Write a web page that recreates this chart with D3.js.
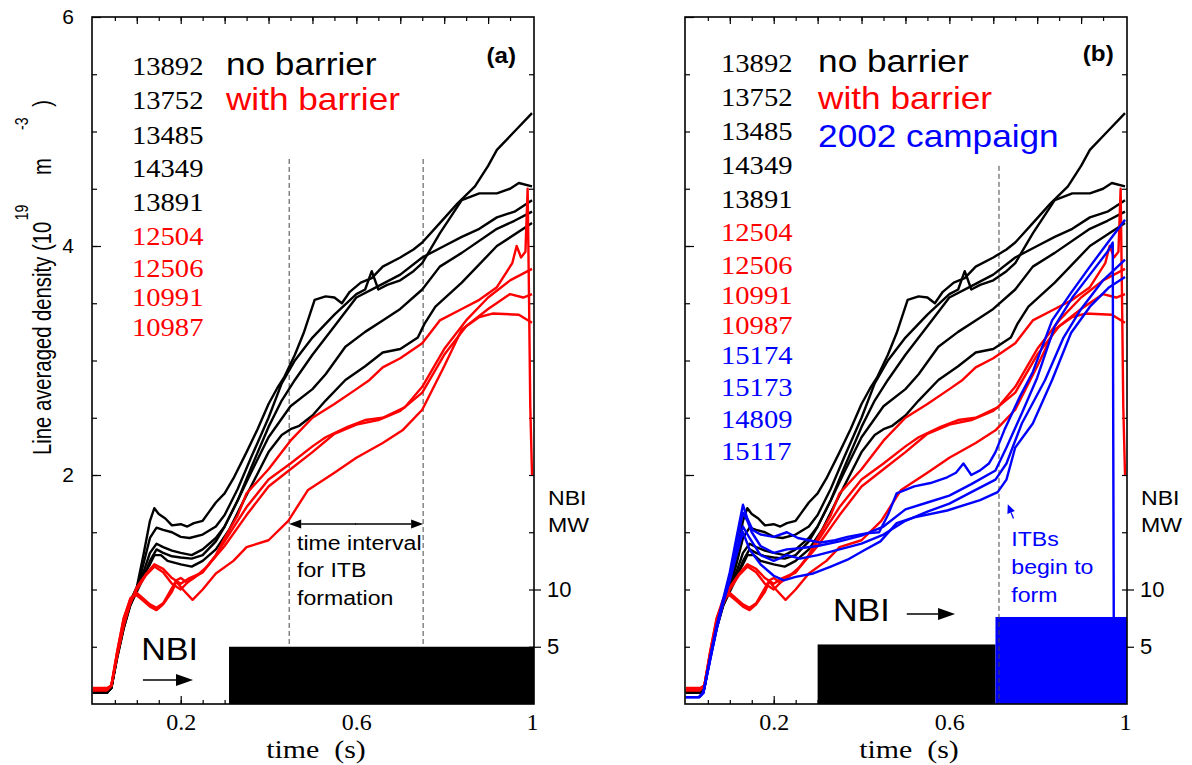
<!DOCTYPE html>
<html><head><meta charset="utf-8">
<script src="https://cdn.jsdelivr.net/npm/d3@7"></script>
<style>body{margin:0;background:#fff}</style></head>
<body><svg id="c" width="1192" height="765"></svg>
<script>
// ---------------- DATA ----------------
// time (s), line averaged density (1e19 m^-3)
const s13892 = [[0,0.1],[0.032,0.1],[0.042,0.14],[0.055,0.42],[0.07,0.68],[0.085,0.88],[0.1,1.02],[0.115,1.3],[0.13,1.6],[0.14,1.71],[0.15,1.66],[0.165,1.62],[0.18,1.56],[0.2,1.57],[0.215,1.55],[0.23,1.58],[0.25,1.6],[0.265,1.68],[0.28,1.76],[0.3,1.84],[0.32,1.97],[0.35,2.2],[0.375,2.4],[0.4,2.62],[0.42,2.76],[0.435,2.85],[0.46,3.05],[0.48,3.24],[0.505,3.53],[0.53,3.56],[0.55,3.55],[0.567,3.5],[0.585,3.6],[0.61,3.68],[0.635,3.72],[0.66,3.82],[0.7,3.9],[0.73,3.97],[0.75,4.03],[0.79,4.2],[0.83,4.37],[0.87,4.52],[0.9,4.7],[0.92,4.84],[0.96,5.0],[1.0,5.16]];
const s13752 = [[0,0.1],[0.032,0.1],[0.042,0.14],[0.055,0.4],[0.07,0.66],[0.085,0.86],[0.1,1.0],[0.115,1.22],[0.13,1.45],[0.145,1.54],[0.16,1.52],[0.18,1.5],[0.2,1.46],[0.22,1.45],[0.25,1.48],[0.28,1.55],[0.3,1.65],[0.33,1.88],[0.36,2.15],[0.4,2.5],[0.43,2.8],[0.46,3.0],[0.5,3.2],[0.55,3.4],[0.6,3.58],[0.62,3.62],[0.635,3.78],[0.65,3.62],[0.67,3.66],[0.7,3.7],[0.73,3.78],[0.75,3.85],[0.79,4.11],[0.84,4.4],[0.88,4.46],[0.92,4.46],[0.95,4.5],[0.97,4.55],[1.0,4.52]];
const s13485 = [[0,0.1],[0.032,0.1],[0.042,0.14],[0.055,0.42],[0.07,0.7],[0.085,0.9],[0.1,1.02],[0.115,1.15],[0.13,1.32],[0.145,1.4],[0.16,1.37],[0.18,1.34],[0.2,1.32],[0.225,1.3],[0.25,1.35],[0.28,1.45],[0.3,1.55],[0.33,1.78],[0.36,2.06],[0.4,2.42],[0.43,2.65],[0.46,2.83],[0.5,3.05],[0.55,3.3],[0.6,3.55],[0.65,3.65],[0.7,3.75],[0.75,3.9],[0.8,4.0],[0.84,4.08],[0.88,4.15],[0.92,4.25],[0.96,4.3],[1.0,4.4]];
const s14349 = [[0,0.1],[0.032,0.1],[0.042,0.14],[0.055,0.4],[0.07,0.66],[0.085,0.86],[0.1,0.98],[0.115,1.1],[0.13,1.25],[0.145,1.35],[0.16,1.32],[0.18,1.29],[0.2,1.28],[0.225,1.27],[0.25,1.3],[0.28,1.42],[0.3,1.55],[0.33,1.78],[0.36,2.02],[0.4,2.33],[0.45,2.6],[0.5,2.75],[0.53,2.88],[0.575,3.12],[0.62,3.25],[0.66,3.35],[0.7,3.45],[0.75,3.62],[0.79,3.82],[0.84,3.94],[0.92,4.15],[0.96,4.22],[1.0,4.3]];
const s13891 = [[0,0.1],[0.032,0.1],[0.042,0.14],[0.055,0.42],[0.07,0.68],[0.085,0.88],[0.1,1.0],[0.115,1.12],[0.13,1.22],[0.14,1.3],[0.155,1.3],[0.17,1.25],[0.2,1.22],[0.225,1.2],[0.25,1.25],[0.28,1.35],[0.31,1.52],[0.34,1.75],[0.36,1.9],[0.4,2.2],[0.43,2.35],[0.45,2.4],[0.47,2.43],[0.5,2.52],[0.53,2.65],[0.575,2.83],[0.62,2.95],[0.66,3.07],[0.7,3.1],[0.74,3.2],[0.755,3.32],[0.78,3.47],[0.84,3.68],[0.92,4.0],[1.0,4.2]];

const s12504 = [[0,0.14],[0.032,0.14],[0.042,0.16],[0.055,0.42],[0.07,0.68],[0.085,0.88],[0.1,1.02],[0.12,1.13],[0.14,1.22],[0.16,1.18],[0.18,1.1],[0.2,1.05],[0.22,1.1],[0.25,1.15],[0.28,1.3],[0.3,1.45],[0.33,1.65],[0.35,1.84],[0.4,2.05],[0.45,2.3],[0.5,2.5],[0.55,2.62],[0.6,2.75],[0.63,2.83],[0.66,2.94],[0.7,3.02],[0.75,3.15],[0.79,3.35],[0.84,3.45],[0.88,3.53],[0.92,3.64],[0.955,3.85],[0.965,4.0],[0.975,3.9],[0.985,3.95],[0.99,4.5],[0.993,3.6],[0.996,2.6],[1.0,2.0]];
const s12506 = [[0,0.13],[0.032,0.13],[0.042,0.16],[0.055,0.42],[0.07,0.7],[0.085,0.88],[0.1,1.0],[0.12,1.12],[0.14,1.2],[0.16,1.15],[0.18,1.05],[0.2,1.0],[0.22,1.08],[0.25,1.15],[0.28,1.3],[0.3,1.42],[0.35,1.72],[0.4,1.96],[0.45,2.1],[0.5,2.25],[0.53,2.33],[0.58,2.42],[0.62,2.48],[0.66,2.5],[0.71,2.59],[0.75,2.77],[0.8,3.1],[0.85,3.35],[0.9,3.55],[0.95,3.7],[1.0,3.8]];
const s10991 = [[0,0.12],[0.032,0.12],[0.042,0.16],[0.055,0.45],[0.07,0.74],[0.085,0.92],[0.1,0.97],[0.115,0.92],[0.13,0.87],[0.145,0.84],[0.16,0.88],[0.175,0.98],[0.19,1.08],[0.2,1.1],[0.215,1.06],[0.23,1.1],[0.26,1.2],[0.3,1.38],[0.35,1.65],[0.4,1.9],[0.45,2.05],[0.5,2.2],[0.55,2.36],[0.6,2.44],[0.65,2.48],[0.7,2.56],[0.75,2.72],[0.8,3.05],[0.85,3.3],[0.9,3.45],[0.95,3.58],[0.98,3.55],[1.0,3.58]];
const s10987 = [[0,0.12],[0.032,0.12],[0.042,0.16],[0.055,0.45],[0.07,0.75],[0.087,0.93],[0.1,0.95],[0.115,0.9],[0.13,0.85],[0.145,0.82],[0.16,0.87],[0.18,0.98],[0.19,1.07],[0.205,1.0],[0.227,0.91],[0.25,1.0],[0.28,1.14],[0.32,1.25],[0.35,1.37],[0.4,1.43],[0.445,1.6],[0.49,1.87],[0.55,2.02],[0.6,2.15],[0.66,2.28],[0.705,2.39],[0.75,2.57],[0.8,2.95],[0.84,3.27],[0.88,3.38],[0.91,3.41],[0.97,3.4],[1.0,3.33]];

const s15174 = [[0,0.06],[0.03,0.06],[0.04,0.1],[0.055,0.4],[0.07,0.68],[0.085,0.92],[0.1,1.15],[0.115,1.45],[0.13,1.74],[0.14,1.62],[0.152,1.52],[0.17,1.48],[0.2,1.46],[0.23,1.5],[0.255,1.45],[0.28,1.43],[0.307,1.41],[0.34,1.43],[0.368,1.46],[0.41,1.49],[0.44,1.5],[0.46,1.65],[0.48,1.84],[0.52,1.9],[0.557,1.93],[0.595,1.98],[0.615,2.02],[0.632,2.1],[0.65,2.0],[0.67,2.04],[0.69,2.1],[0.705,2.2],[0.725,2.39],[0.76,2.68],[0.79,2.9],[0.834,3.35],[0.877,3.59],[0.92,3.82],[0.955,4.0],[1.0,4.23]];
const s15173 = [[0,0.06],[0.03,0.06],[0.04,0.1],[0.055,0.4],[0.07,0.68],[0.085,0.9],[0.1,1.12],[0.115,1.4],[0.13,1.67],[0.14,1.6],[0.15,1.5],[0.17,1.38],[0.2,1.32],[0.23,1.35],[0.26,1.36],[0.3,1.38],[0.35,1.42],[0.4,1.47],[0.45,1.55],[0.5,1.7],[0.55,1.76],[0.6,1.82],[0.65,1.92],[0.705,2.04],[0.73,2.24],[0.765,2.54],[0.8,2.85],[0.84,3.3],[0.88,3.55],[0.92,3.75],[0.96,3.95],[0.972,4.03],[0.975,-0.2]];
const s14809 = [[0,0.06],[0.03,0.06],[0.04,0.1],[0.055,0.38],[0.07,0.66],[0.085,0.9],[0.1,1.1],[0.115,1.33],[0.13,1.55],[0.145,1.45],[0.17,1.3],[0.2,1.25],[0.23,1.3],[0.26,1.27],[0.3,1.3],[0.35,1.35],[0.4,1.4],[0.45,1.48],[0.5,1.6],[0.55,1.68],[0.6,1.75],[0.65,1.85],[0.705,1.96],[0.73,2.1],[0.765,2.45],[0.818,2.83],[0.86,3.2],[0.9,3.45],[0.95,3.7],[1.0,3.88]];
const s15117 = [[0,0.06],[0.03,0.06],[0.04,0.1],[0.055,0.38],[0.07,0.65],[0.085,0.88],[0.1,1.08],[0.115,1.3],[0.13,1.5],[0.145,1.35],[0.17,1.22],[0.2,1.12],[0.223,1.08],[0.25,1.11],[0.29,1.14],[0.33,1.2],[0.368,1.26],[0.405,1.34],[0.443,1.42],[0.48,1.58],[0.52,1.63],[0.595,1.69],[0.67,1.78],[0.71,1.85],[0.73,1.96],[0.75,2.24],[0.79,2.45],[0.834,2.83],[0.877,3.24],[0.92,3.47],[0.964,3.64],[1.0,3.73]];

const shotsNoBarrier = ["13892","13752","13485","14349","13891"];
const shotsBarrier = ["12504","12506","10991","10987"];
const shots2002 = ["15174","15173","14809","15117"];
const seriesBy = {"13892":s13892,"13752":s13752,"13485":s13485,"14349":s14349,"13891":s13891,
  "12504":s12504,"12506":s12506,"10991":s10991,"10987":s10987,
  "15174":s15174,"15173":s15173,"14809":s14809,"15117":s15117};

// NBI power phases: [start s, end s, MW]
const nbiA = [[0.31, 1.0045, 5.0]];
const nbiB = [[0.30, 0.705, 5.2],[0.705, 1.0045, 7.6]];

const yTickLabels = [2,4,6];
const xTickLabels = [0.2,0.6,1];
const mwTickLabels = [5,10];
const itbInterval = [0.447, 0.752];  // time interval for ITB formation (a)
const itbStartB = 0.713;             // ITBs begin to form (b)

// ---------------- STYLE / LAYOUT ----------------
const SANS = "'Liberation Sans', Arial, Helvetica, sans-serif";
const SERIF = "'Liberation Serif', 'Times New Roman', serif";
const BLACK = "#000", RED = "#ff0000", BLUE = "#0000ff";
const TOP = 17, BOT = 704, W = 442, STRETCH = 1.1;
const svg = d3.select("#c");

// text with the slight horizontal stretch of the original figure
function stext(g, x, y, str, size, color, bold, anchor, fam, sx) {
  return g.append("text").attr("transform", `translate(${x},${y}) scale(${sx || STRETCH},1)`)
    .attr("font-family", fam || SANS).attr("font-size", size).attr("fill", color || "#000")
    .attr("font-weight", bold ? "bold" : null).attr("text-anchor", anchor || "start")
    .attr("xml:space", "preserve").text(str);
}

function arrow(g, x1, y1, x2, y2, color, sw, hl, hw) {
  const a = Math.atan2(y2 - y1, x2 - x1);
  const bx = x2 - hl * Math.cos(a), by = y2 - hl * Math.sin(a);
  g.append("line").attr("x1", x1).attr("y1", y1).attr("x2", bx).attr("y2", by)
    .attr("stroke", color).attr("stroke-width", sw);
  const px = -Math.sin(a) * hw, py = Math.cos(a) * hw;
  g.append("path").attr("d", `M${x2},${y2}L${bx + px},${by + py}L${bx - px},${by - py}Z`).attr("fill", color);
}

function drawPanel(ox, cfg) {
  const x = d3.scaleLinear().domain([-0.002, 1.0045]).range([ox, ox + W]);
  const y = d3.scaleLinear().domain([0, 6]).range([BOT, TOP]);
  const yMW = d3.scaleLinear().domain([0, 60]).range([BOT, TOP]);
  const g = svg.append("g");
  const cid = "clip" + ox;
  svg.append("clipPath").attr("id", cid).append("rect")
    .attr("x", ox).attr("y", TOP).attr("width", W).attr("height", BOT - TOP);

  const styleAxis = (sel, fam, size) => {
    sel.attr("font-family", null).attr("font-size", null);
    sel.select(".domain").remove();
    sel.selectAll("line").attr("stroke", "#000").attr("stroke-width", 1.2);
    sel.selectAll("text").attr("font-family", fam).attr("font-size", size).attr("fill", "#000");
  };
  // left axis
  g.append("g").attr("transform", `translate(${ox},0)`)
    .call(d3.axisLeft(y).tickValues(d3.range(0.5, 6, 0.5)).tickSize(-5).tickFormat(""))
    .call(s => styleAxis(s, SANS, 20));
  g.append("g").attr("transform", `translate(${ox},0)`)
    .call(d3.axisLeft(y).tickValues(yTickLabels).tickSize(-9).tickPadding(18)
      .tickFormat(cfg.leftLabels ? d3.format("d") : ""))
    .call(s => styleAxis(s, SANS, 21));
  // right axis (NBI MW)
  g.append("g").attr("transform", `translate(${ox + W},0)`)
    .call(d3.axisRight(yMW).tickValues(d3.range(5, 60, 5)).tickSize(-5).tickFormat(""))
    .call(s => styleAxis(s, SANS, 20));
  g.append("g").attr("transform", `translate(${ox + W},0)`)
    .call(d3.axisRight(yMW).tickValues(mwTickLabels).tickSize(7).tickPadding(6).tickFormat(d3.format("d")))
    .call(s => styleAxis(s, SANS, 22));
  // bottom axis
  g.append("g").attr("transform", `translate(0,${BOT})`)
    .call(d3.axisBottom(x).tickValues(d3.range(1, 20).map(i => i * 0.05)).tickSize(-4).tickFormat(""))
    .call(s => styleAxis(s, SERIF, 24));
  g.append("g").attr("transform", `translate(0,${BOT})`)
    .call(d3.axisBottom(x).tickValues([0.2, 0.4, 0.6, 0.8, 1.0]).tickSize(-8).tickPadding(9)
      .tickFormat(d => xTickLabels.some(v => Math.abs(v - d) < 1e-9) ? d3.format("~g")(d) : ""))
    .call(s => styleAxis(s, SERIF, 24));
  // top axis
  g.append("g").attr("transform", `translate(0,${TOP})`)
    .call(d3.axisTop(x).tickValues(d3.range(1, 20).map(i => i * 0.05)).tickSize(-4).tickFormat(""))
    .call(s => styleAxis(s, SERIF, 24));
  g.append("g").attr("transform", `translate(0,${TOP})`)
    .call(d3.axisTop(x).tickValues(d3.range(1, 10).map(i => i * 0.1)).tickSize(-7).tickFormat(""))
    .call(s => styleAxis(s, SERIF, 24));

  // NBI bars
  g.append("g").selectAll("rect").data(cfg.nbi).join("rect")
    .attr("x", d => x(d[0])).attr("y", d => yMW(d[2]))
    .attr("width", d => x(d[1]) - x(d[0])).attr("height", d => yMW(0) - yMW(d[2]))
    .attr("fill", (d, i) => cfg.nbiColors[i]);

  // dashed markers
  g.append("g").selectAll("line").data(cfg.dashed).join("line")
    .attr("x1", d => x(d.t)).attr("x2", d => x(d.t))
    .attr("y1", d => y(d.top)).attr("y2", d => y(d.bottom))
    .attr("stroke", "#444").attr("stroke-width", 1).attr("stroke-dasharray", "5,3");

  // density traces
  const line = d3.line().x(d => x(d[0])).y(d => y(d[1]));
  const lg = g.append("g").attr("clip-path", `url(#${cid})`);
  cfg.groups.forEach(grp => {
    lg.append("g").selectAll("path").data(grp.shots.map(s => seriesBy[s])).join("path")
      .attr("d", line).attr("fill", "none").attr("stroke", grp.color)
      .attr("stroke-width", 2.4).attr("stroke-linejoin", "round");
  });

  // frame
  g.append("rect").attr("x", ox).attr("y", TOP).attr("width", W).attr("height", BOT - TOP)
    .attr("fill", "none").attr("stroke", "#000").attr("stroke-width", 1.6);

  // legend
  cfg.rows.forEach((r, i) => stext(g, x(cfg.numT), cfg.rowY[i], r.shot, 26, r.color, false, "start", SERIF, 1.1));
  cfg.names.forEach((n, i) => stext(g, x(cfg.nameT), cfg.nameY[i], n.label, 32, n.color));
  stext(g, x(cfg.tag.t), y(cfg.tag.d), cfg.tag.label, 22, "#000", true, "middle");

  // right axis title
  stext(g, ox + W + 14, 505, "NBI", 21);
  stext(g, ox + W + 14, 532, "MW", 21);

  // x axis title
  stext(g, ox + W / 2 + 3, 758, "time  (s)", 26, "#000", false, "middle", SERIF, 1.15);

  // NBI label with arrow
  stext(g, x(cfg.nbiLabel.t), y(cfg.nbiLabel.d), "NBI", 31);
  arrow(g, x(cfg.nbiArrow.t0), y(cfg.nbiArrow.d), x(cfg.nbiArrow.t1), y(cfg.nbiArrow.d), BLACK, 1.6, 17, 6);

  return {g, x, y};
}

// ---------- Panel (a) ----------
const rowsA = shotsNoBarrier.map(s => ({shot: s, color: BLACK}))
  .concat(shotsBarrier.map(s => ({shot: s, color: RED})));
const A = drawPanel(92, {
  leftLabels: true,
  nbi: nbiA, nbiColors: [BLACK],
  dashed: itbInterval.map(t => ({t, top: 4.76, bottom: 0.5})),
  groups: [{shots: shotsNoBarrier, color: BLACK}, {shots: shotsBarrier, color: RED}],
  rows: rowsA, rowY: [75, 109, 144, 177, 211, 245, 277, 306, 336], numT: 0.089,
  names: [{label: "no barrier", color: BLACK}, {label: "with barrier", color: RED}],
  nameY: [75, 110], nameT: 0.303,
  tag: {label: "(a)", t: 0.93, d: 5.6},
  nbiLabel: {t: 0.11, d: 0.385}, nbiArrow: {t0: 0.114, t1: 0.228, d: 0.21}
});
// double arrow: time interval for ITB formation
{
  const {g, x, y} = A;
  const yy = y(1.572);
  const xm = (x(itbInterval[0]) + x(itbInterval[1])) / 2;
  arrow(g, xm, yy, x(itbInterval[0]), yy, "#000", 1.3, 12, 4.5);
  arrow(g, xm - 1, yy, x(itbInterval[1]), yy, "#000", 1.3, 12, 4.5);
  ["time interval", "for ITB", "formation"].forEach((s, i) => {
    stext(g, x(0.465), y([1.345, 1.11, 0.865][i]), s, 21);
  });
  // y-axis title
  const t = svg.append("text").attr("transform", "translate(51,455) rotate(-90) scale(0.78,1)")
    .attr("font-family", SANS).attr("font-size", 26).attr("fill", "#000");
  t.append("tspan").text("Line averaged density (10");
  t.append("tspan").attr("dy", -23).attr("dx", 2).attr("font-size", 18).text("19");
  t.append("tspan").attr("dy", 23).attr("dx", 38).text("m");
  t.append("tspan").attr("dy", -23).attr("dx", 36).attr("font-size", 18).text("-3");
  t.append("tspan").attr("dy", 23).attr("dx", 14).text(")");
}

// ---------- Panel (b) ----------
const rowsB = rowsA.concat(shots2002.map(s => ({shot: s, color: BLUE})));
const B = drawPanel(685, {
  leftLabels: false,
  nbi: nbiB, nbiColors: [BLACK, BLUE],
  dashed: [{t: itbStartB, top: 4.70, bottom: 0}],
  groups: [{shots: shotsNoBarrier, color: BLACK}, {shots: shotsBarrier, color: RED}, {shots: shots2002, color: BLUE}],
  rows: rowsB, rowY: [72, 106, 140, 174, 208, 241, 274, 304, 334, 364, 396, 428, 460], numT: 0.08,
  names: [{label: "no barrier", color: BLACK}, {label: "with barrier", color: RED}, {label: "2002 campaign", color: BLUE}],
  nameY: [72, 109, 147], nameT: 0.301,
  tag: {label: "(b)", t: 0.939, d: 5.62},
  nbiLabel: {t: 0.335, d: 0.725}, nbiArrow: {t0: 0.503, t1: 0.613, d: 0.786}
});
{
  const {g, x, y} = B;
  ["ITBs", "begin to", "form"].forEach((s, i) => {
    stext(g, x(0.741), y([1.38, 1.135, 0.89][i]), s, 21, BLUE);
  });
  arrow(g, x(0.746), y(1.62), x(0.733), y(1.745), BLUE, 1.3, 9, 4);
}
</script></body></html>
